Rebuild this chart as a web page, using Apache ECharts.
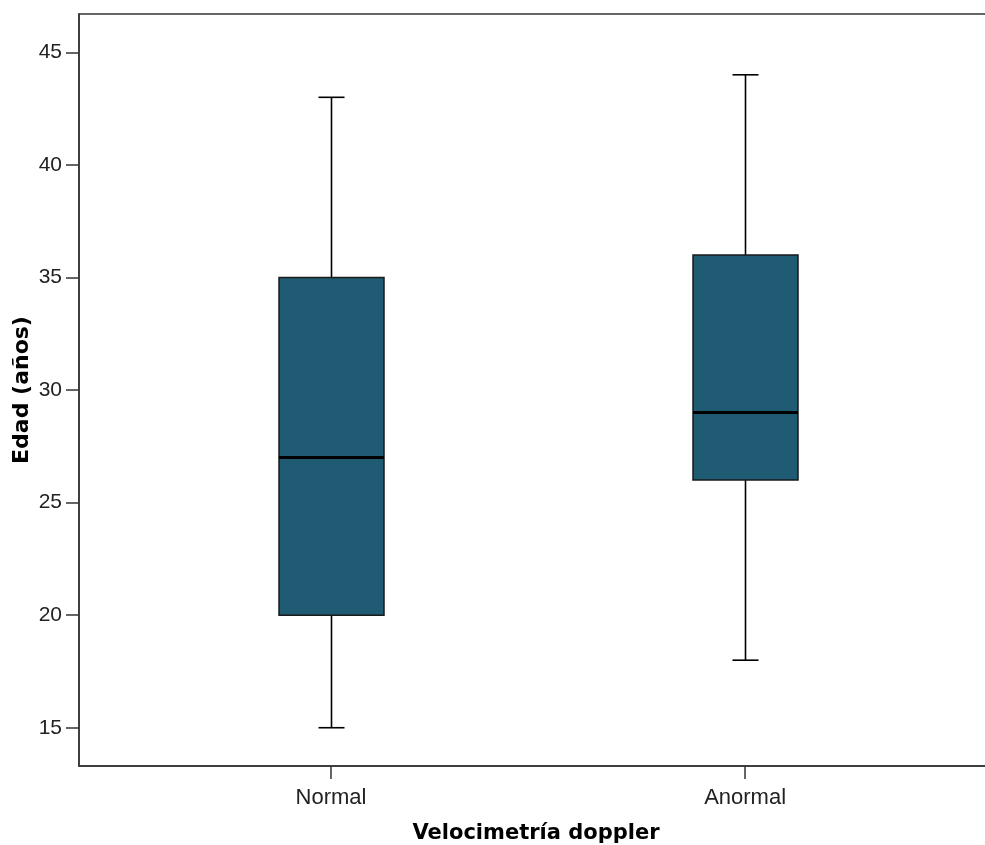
<!DOCTYPE html>
<html><head><meta charset="utf-8">
<script src="https://cdn.jsdelivr.net/npm/echarts@6/dist/echarts.min.js"></script>
<style>html,body{margin:0;padding:0;background:#fff}#c{width:985px;height:845px}</style>
</head><body><div id="c"></div>
<script>
const categories = ['Normal', 'Anormal'];
const positions = [1, 2];
const minVals = [15, 18];
const q1Vals = [20, 26];
const medianVals = [27, 29];
const q3Vals = [35, 36];
const maxVals = [43, 44];
const yTicks = [15, 20, 25, 30, 35, 40, 45];

const labelFont = "'Liberation Sans Narrow', 'Liberation Sans', Arial, sans-serif";
const titleFont = "'DejaVu Sans', Verdana, sans-serif";

const boxData = positions.map((x, i) => [x, minVals[i], q1Vals[i], medianVals[i], q3Vals[i], maxVals[i]]);

function renderBox(params, api) {
  const x = api.value(0);
  const vMin = api.coord([x, api.value(1)]);
  const vQ1 = api.coord([x, api.value(2)]);
  const vMed = api.coord([x, api.value(3)]);
  const vQ3 = api.coord([x, api.value(4)]);
  const vMax = api.coord([x, api.value(5)]);
  const cx = Math.round(vMin[0]) + 0.5;
  const hw = 52.5;
  const cap = 13;
  const lineStyle = {stroke: '#000', lineWidth: 1.6};
  return {
    type: 'group',
    children: [
      {type: 'line', shape: {x1: cx, y1: vMax[1], x2: cx, y2: vQ3[1]}, style: lineStyle},
      {type: 'line', shape: {x1: cx, y1: vMin[1], x2: cx, y2: vQ1[1]}, style: lineStyle},
      {type: 'line', shape: {x1: cx - cap, y1: vMax[1], x2: cx + cap, y2: vMax[1]}, style: lineStyle},
      {type: 'line', shape: {x1: cx - cap, y1: vMin[1], x2: cx + cap, y2: vMin[1]}, style: lineStyle},
      {type: 'rect', shape: {x: cx - hw, y: vQ3[1], width: 2 * hw, height: vQ1[1] - vQ3[1]},
       style: {fill: '#1F5B72', stroke: '#1a1a1a', lineWidth: 1.5}},
      {type: 'line', shape: {x1: cx - hw, y1: vMed[1], x2: cx + hw, y2: vMed[1]}, style: {stroke: '#000', lineWidth: 3}}
    ]
  };
}

const chart = echarts.init(document.getElementById('c'), null, {renderer: 'canvas'});
chart.setOption({
  animation: false,
  backgroundColor: '#ffffff',
  grid: {left: 79, top: 14, height: 752, width: 946, outerBoundsMode: 'none', show: true, borderColor: '#333', borderWidth: 1.5, backgroundColor: 'transparent', containLabel: false},
  xAxis: {
    type: 'value', min: 0.3913, max: 2.676,
    name: 'Velocimetría doppler', nameLocation: 'middle', nameGap: 57,
    nameTextStyle: {fontFamily: titleFont, fontWeight: 'bold', fontSize: 21, color: '#000', padding: [0, 32, 0, 0]},
    axisLine: {show: true, lineStyle: {color: '#333', width: 1.5}},
    axisTick: {show: true, length: 13, customValues: positions, lineStyle: {color: '#333', width: 1.5}},
    axisLabel: {customValues: positions, formatter: v => categories[positions.indexOf(v)] || '', fontFamily: labelFont, fontSize: 22, color: '#222', margin: 21},
    splitLine: {show: false}
  },
  yAxis: {
    type: 'value', min: 13.3, max: 46.7,
    name: 'Edad (años)', nameLocation: 'middle', nameGap: 46, nameRotate: 90, nameMoveOverlap: false,
    nameTextStyle: {fontFamily: titleFont, fontWeight: 'bold', fontSize: 22, color: '#000'},
    axisLine: {show: true, lineStyle: {color: '#333', width: 1.5}},
    axisTick: {show: true, length: 13, customValues: yTicks, lineStyle: {color: '#333', width: 1.5}},
    axisLabel: {customValues: yTicks, fontFamily: labelFont, fontSize: 21, color: '#222', margin: 17},
    splitLine: {show: false}
  },
  series: [
    {type: 'custom', renderItem: renderBox, data: boxData, encode: {x: 0, y: [1, 2, 3, 4, 5]}, clip: false}
  ]
});
</script></body></html>
